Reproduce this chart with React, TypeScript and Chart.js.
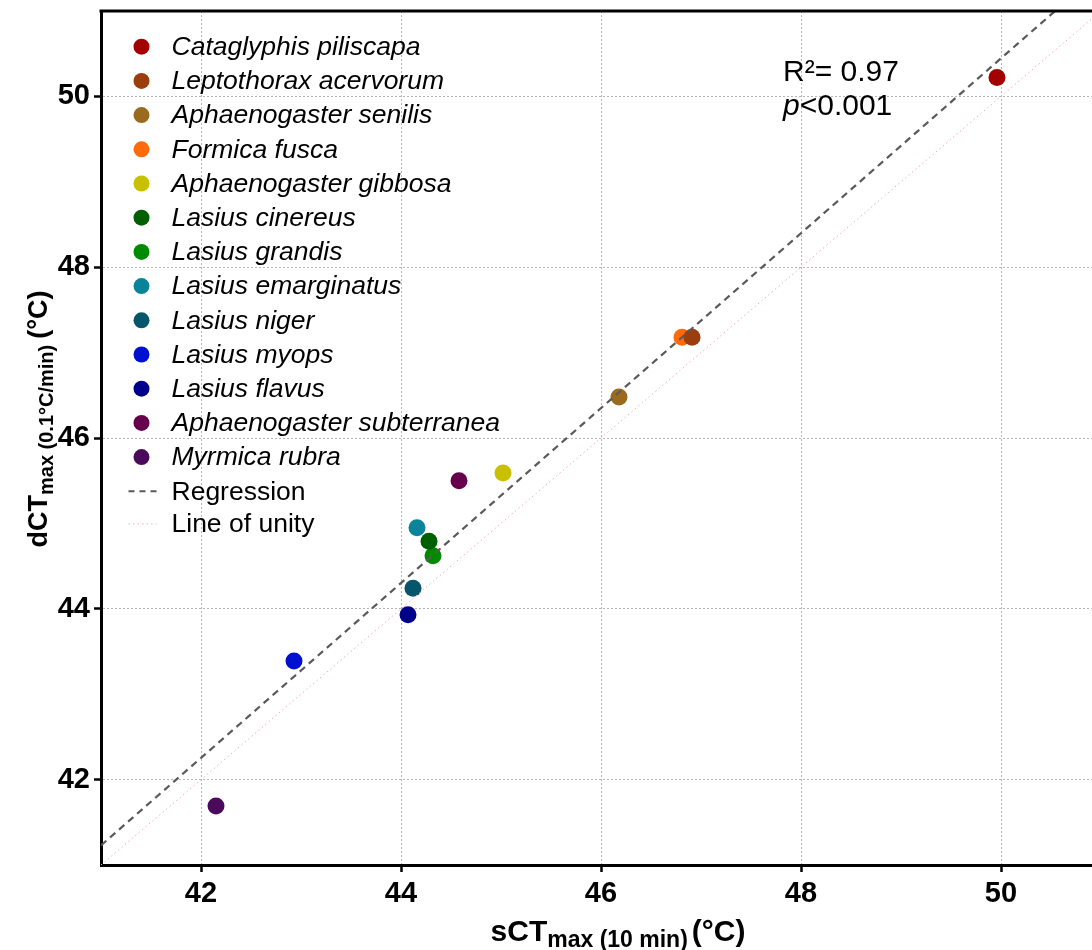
import React, { useEffect, useRef } from "react";
import { Chart, registerables } from "chart.js";

Chart.register(...registerables);

const species = [
  "Cataglyphis piliscapa",
  "Leptothorax acervorum",
  "Aphaenogaster senilis",
  "Formica fusca",
  "Aphaenogaster gibbosa",
  "Lasius cinereus",
  "Lasius grandis",
  "Lasius emarginatus",
  "Lasius niger",
  "Lasius myops",
  "Lasius flavus",
  "Aphaenogaster subterranea",
  "Myrmica rubra",
];
const sctValues = [49.96, 46.91, 46.18, 46.81, 45.02, 44.28, 44.32, 44.16, 44.12, 42.93, 44.07, 44.58, 42.15];
const dctValues = [50.22, 47.18, 46.48, 47.18, 45.59, 44.79, 44.62, 44.95, 44.24, 43.39, 43.93, 45.5, 41.69];
const speciesColors = [
  "#a30000",
  "#9b3d0c",
  "#9a6a1e",
  "#ff6a0a",
  "#c8c000",
  "#005f00",
  "#008a00",
  "#0a849a",
  "#05566a",
  "#0010d0",
  "#00008a",
  "#66004c",
  "#4c0a5c",
];
const xTicks = [42, 44, 46, 48, 50];
const yTicks = [42, 44, 46, 48, 50];
const xRange = [41, 50.91];
const yRange = [41, 51];
const regIntercept = -0.754;
const regSlope = 1.024;
const statsLines = ["R²= 0.97", "<0.001"];

const FONT = "'Liberation Sans', Arial, Helvetica, sans-serif";

type Seg = { t: string; size: number; dy: number; style?: string; gap?: number };

function drawSegs(ctx: CanvasRenderingContext2D, segs: Seg[], cx: number, y: number) {
  let total = 0;
  const widths = segs.map((s) => {
    ctx.font = `${s.style || "bold"} ${s.size}px ${FONT}`;
    const w = ctx.measureText(s.t).width + (s.gap || 0);
    total += w;
    return w;
  });
  let x = cx - total / 2;
  segs.forEach((s, i) => {
    ctx.font = `${s.style || "bold"} ${s.size}px ${FONT}`;
    ctx.fillText(s.t, x + (s.gap || 0), y + s.dy);
    x += widths[i];
  });
}

const overlayPlugin = {
  id: "overlay",
  afterDraw(chart: any) {
    const ctx: CanvasRenderingContext2D = chart.ctx;
    const ca = chart.chartArea;
    ctx.save();
    // top border
    ctx.strokeStyle = "#000";
    ctx.lineWidth = 3;
    ctx.beginPath();
    ctx.moveTo(ca.left - 1.5, ca.top);
    ctx.lineTo(chart.width, ca.top);
    ctx.stroke();

    // legend
    const lx = ca.left + 40.5;
    const ly0 = ca.top + 35.7;
    const dy = 34.2;
    ctx.textBaseline = "middle";
    ctx.textAlign = "left";
    species.forEach((s, i) => {
      const y = ly0 + i * dy;
      ctx.fillStyle = speciesColors[i];
      ctx.beginPath();
      ctx.arc(lx, y, 8, 0, Math.PI * 2);
      ctx.fill();
      ctx.fillStyle = "#000";
      ctx.font = `italic 26.5px ${FONT}`;
      ctx.fillText(s, lx + 30, y + 1);
    });
    const yReg = ly0 + species.length * dy;
    ctx.strokeStyle = "#5a5a5a";
    ctx.lineWidth = 2;
    ctx.setLineDash([6, 5]);
    ctx.beginPath();
    ctx.moveTo(lx - 13, yReg);
    ctx.lineTo(lx + 15, yReg);
    ctx.stroke();
    ctx.fillStyle = "#000";
    ctx.font = `26.5px ${FONT}`;
    ctx.fillText("Regression", lx + 30, yReg + 1);
    const yUni = yReg + 32.6;
    ctx.strokeStyle = "#f7a8b8";
    ctx.lineWidth = 1;
    ctx.setLineDash([1.5, 3]);
    ctx.beginPath();
    ctx.moveTo(lx - 13, yUni);
    ctx.lineTo(lx + 15, yUni);
    ctx.stroke();
    ctx.setLineDash([]);
    ctx.fillText("Line of unity", lx + 30, yUni + 1);

    // stats annotation
    ctx.textBaseline = "alphabetic";
    ctx.font = `30px ${FONT}`;
    const ax = 783;
    ctx.fillText(statsLines[0], ax, 81);
    ctx.font = `italic 30px ${FONT}`;
    ctx.fillText("p", ax, 115);
    const pw = ctx.measureText("p").width;
    ctx.font = `30px ${FONT}`;
    ctx.fillText(statsLines[1], ax + pw, 115);

    // axis titles
    ctx.fillStyle = "#000";
    drawSegs(
      ctx,
      [
        { t: "sCT", size: 30, dy: 0 },
        { t: "max (10 min)", size: 23, dy: 6 },
        { t: "(°C)", size: 30, dy: 0, gap: 4 },
      ],
      618,
      941
    );
    ctx.save();
    ctx.translate(47, 419);
    ctx.rotate(-Math.PI / 2);
    drawSegs(
      ctx,
      [
        { t: "dCT", size: 27, dy: 0 },
        { t: "max (0.1°C/min)", size: 20, dy: 6 },
        { t: "(°C)", size: 27, dy: 0, gap: 6 },
      ],
      0,
      0
    );
    ctx.restore();
    ctx.restore();
  },
};

const noPad = (s: any) => {
  s.paddingTop = 0;
  s.paddingBottom = 0;
  s.paddingLeft = 0;
  s.paddingRight = 0;
};

export default function App() {
  const ref = useRef<HTMLCanvasElement | null>(null);
  useEffect(() => {
    if (!ref.current) return;
    const lineData = (f: (x: number) => number) => [
      { x: xRange[0], y: f(xRange[0]) },
      { x: xRange[1], y: f(xRange[1]) },
    ];
    const datasets: any[] = [
      {
        label: "Regression",
        data: lineData((x) => regIntercept + regSlope * x),
        showLine: true,
        borderColor: "#5a5a5a",
        borderWidth: 2.2,
        borderDash: [7, 5],
        pointRadius: 0,
        fill: false,
      },
      {
        label: "Line of unity",
        data: lineData((x) => x),
        showLine: true,
        borderColor: "#f7a8b8",
        borderWidth: 1,
        borderDash: [1.5, 3],
        pointRadius: 0,
        fill: false,
      },
      ...species.map((s, i) => ({
        label: s,
        data: [{ x: sctValues[i], y: dctValues[i] }],
        backgroundColor: speciesColors[i],
        borderColor: speciesColors[i],
        borderWidth: 0,
        pointRadius: 8.5,
        pointHoverRadius: 8.5,
      })),
    ];
    const tickFont = { family: FONT, size: 29, weight: "bold" as const };
    const chart = new Chart(ref.current, {
      type: "scatter",
      data: { datasets },
      plugins: [overlayPlugin],
      options: {
        animation: false,
        responsive: true,
        maintainAspectRatio: false,
        events: [],
        layout: { autoPadding: false, padding: { top: 11, left: 0, right: 0, bottom: 0 } },
        plugins: { legend: { display: false }, tooltip: { enabled: false } },
        scales: {
          x: {
            type: "linear",
            min: xRange[0],
            max: xRange[1],
            afterBuildTicks: (s: any) => {
              s.ticks = xTicks.map((v) => ({ value: v }));
            },
            afterFit: (s: any) => {
              s.height = 85;
              noPad(s);
            },
            grid: { color: "#b5b5b5", lineWidth: 1, tickColor: "#000", tickWidth: 2.5, tickLength: 7 },
            border: { display: true, color: "#000", width: 3, dash: [2, 2] },
            ticks: { color: "#000", font: tickFont, padding: 5, maxRotation: 0, autoSkip: false },
          },
          y: {
            type: "linear",
            min: yRange[0],
            max: yRange[1],
            afterBuildTicks: (s: any) => {
              s.ticks = yTicks.map((v) => ({ value: v }));
            },
            afterFit: (s: any) => {
              s.width = 101;
              noPad(s);
            },
            grid: { color: "#b5b5b5", lineWidth: 1, tickColor: "#000", tickWidth: 2.5, tickLength: 7 },
            border: { display: true, color: "#000", width: 3, dash: [2, 2] },
            ticks: { color: "#000", font: tickFont, padding: 4, autoSkip: false },
          },
        },
      } as any,
    });
    return () => chart.destroy();
  }, []);
  return (
    <div style={{ position: "absolute", left: 0, top: 0, width: 1092, height: 950, background: "#fff" }}>
      <canvas ref={ref} />
    </div>
  );
}
